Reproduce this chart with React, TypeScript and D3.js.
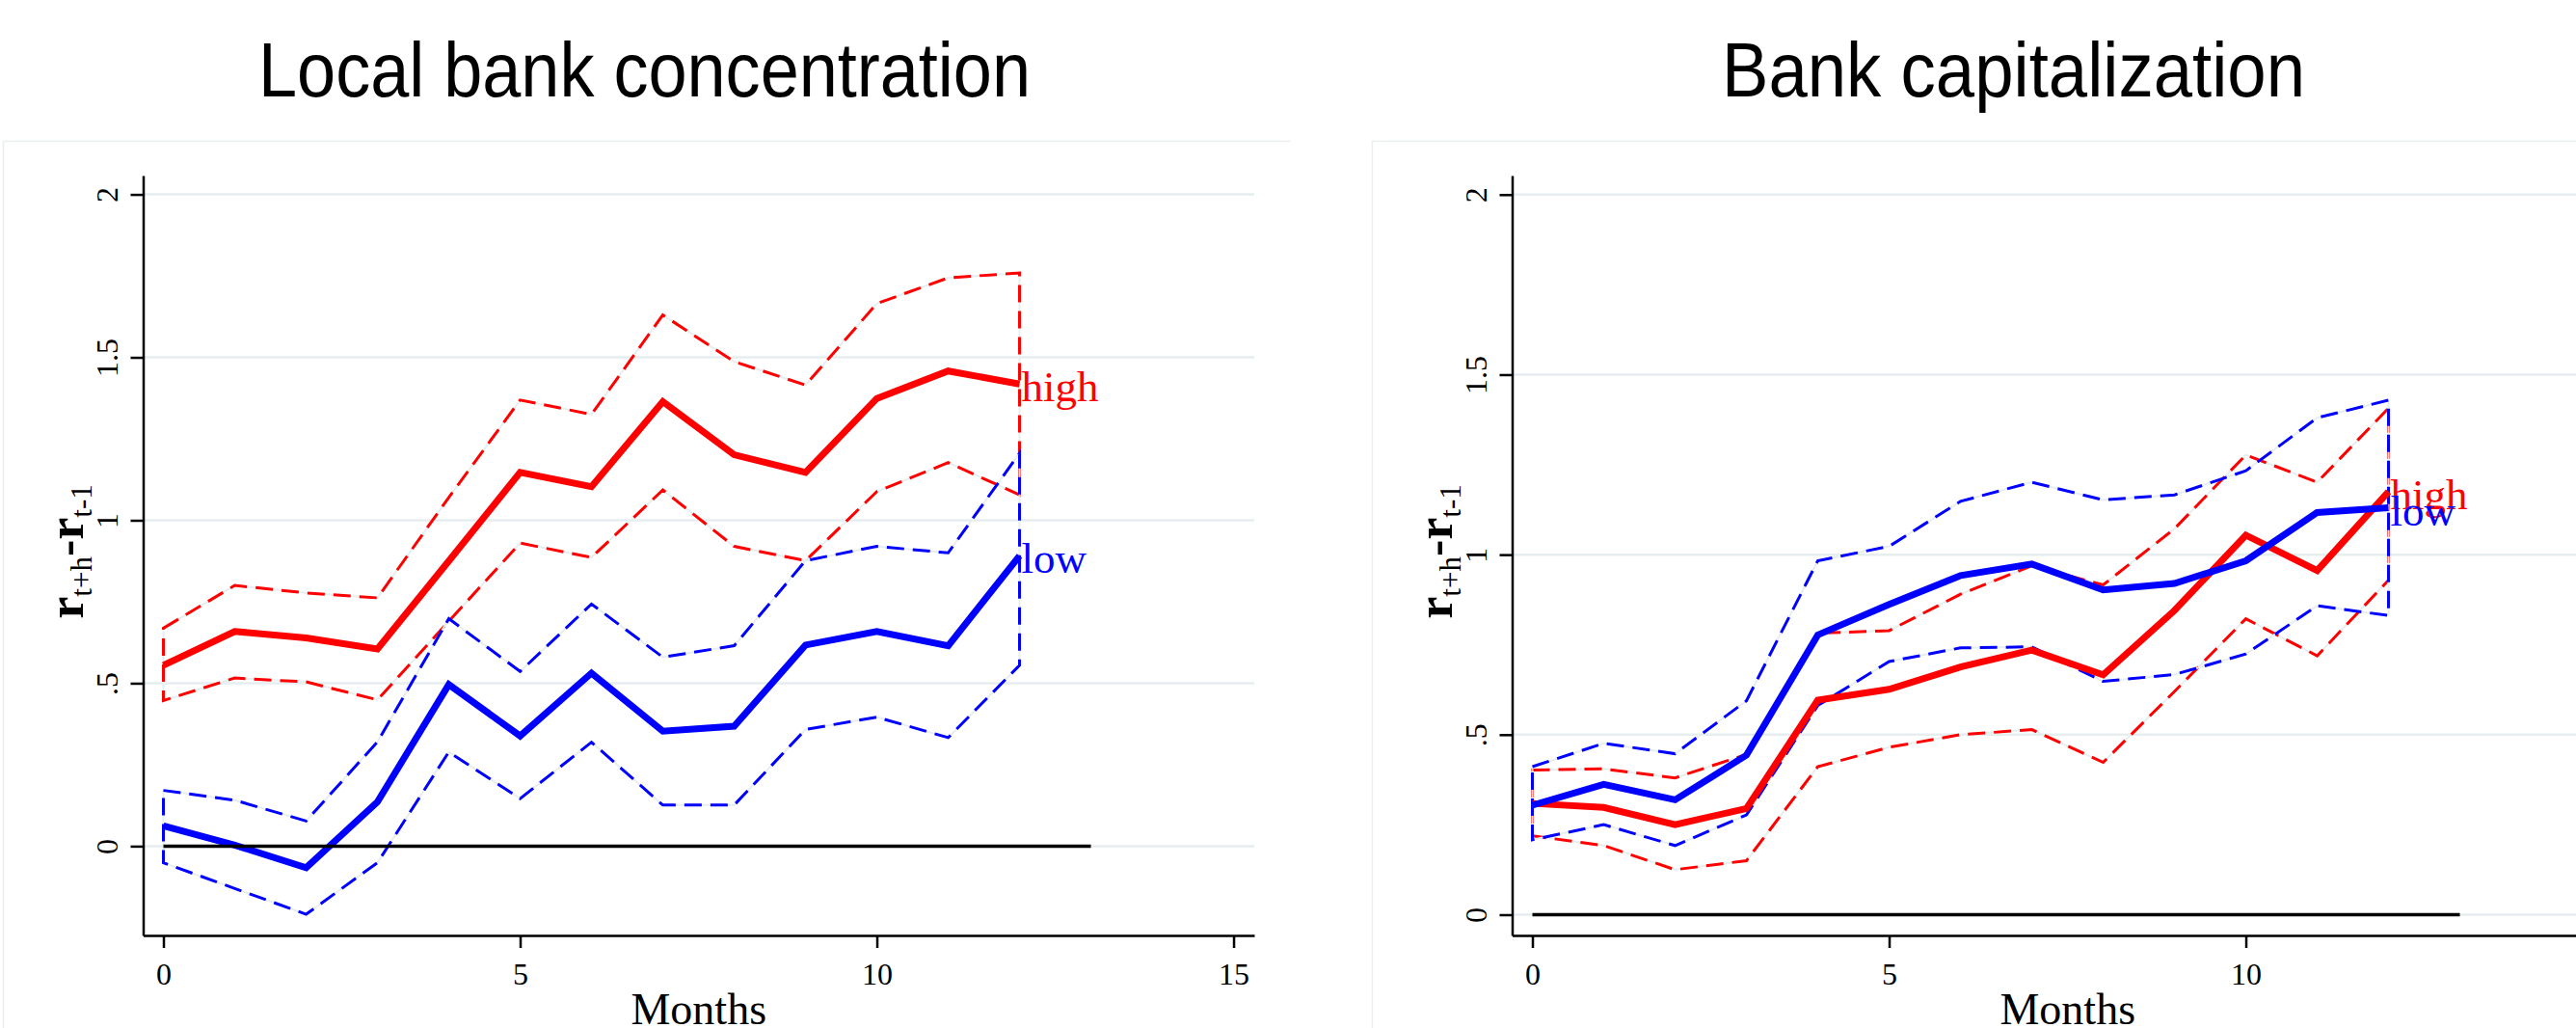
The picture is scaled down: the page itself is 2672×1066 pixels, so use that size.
import * as d3 from 'd3'
import { useRef, useEffect } from 'react'

const W = 2672
const H = 1066

const months = [0, 1, 2, 3, 4, 5, 6, 7, 8, 9, 10, 11, 12]
const zeroSpan = [0, 13]
const yTicks = [0, 0.5, 1, 1.5, 2]
const yTickLabels = ['0', '.5', '1', '1.5', '2']
const xTicks = [0, 5, 10, 15]

// Local bank concentration
const concHigh = [0.555, 0.659, 0.639, 0.605, 0.875, 1.147, 1.103, 1.364, 1.201, 1.147, 1.374, 1.458, 1.418]
const concHighUp = [0.669, 0.8, 0.777, 0.762, 1.07, 1.369, 1.325, 1.63, 1.487, 1.415, 1.665, 1.744, 1.759]
const concHighLo = [0.447, 0.516, 0.504, 0.449, 0.69, 0.93, 0.886, 1.093, 0.92, 0.876, 1.088, 1.177, 1.078]
const concLow = [0.062, 0.003, -0.066, 0.136, 0.496, 0.338, 0.531, 0.353, 0.368, 0.617, 0.659, 0.615, 0.891]
const concLowUp = [0.171, 0.141, 0.077, 0.32, 0.698, 0.536, 0.743, 0.58, 0.615, 0.876, 0.92, 0.9, 1.206]
const concLowLo = [-0.051, -0.13, -0.209, -0.051, 0.289, 0.146, 0.319, 0.126, 0.126, 0.358, 0.396, 0.333, 0.555]

// Bank capitalization
const capHigh = [0.309, 0.298, 0.25, 0.295, 0.596, 0.626, 0.688, 0.735, 0.666, 0.845, 1.054, 0.956, 1.175]
const capHighUp = [0.402, 0.405, 0.38, 0.445, 0.782, 0.789, 0.89, 0.969, 0.916, 1.072, 1.277, 1.201, 1.407]
const capHighLo = [0.219, 0.192, 0.125, 0.15, 0.411, 0.465, 0.5, 0.514, 0.423, 0.62, 0.822, 0.719, 0.929]
const capLow = [0.304, 0.362, 0.319, 0.443, 0.777, 0.862, 0.942, 0.974, 0.902, 0.92, 0.983, 1.117, 1.13]
const capLowUp = [0.411, 0.476, 0.447, 0.594, 0.983, 1.023, 1.148, 1.201, 1.152, 1.166, 1.233, 1.38, 1.429]
const capLowLo = [0.208, 0.25, 0.192, 0.277, 0.581, 0.703, 0.741, 0.744, 0.648, 0.667, 0.724, 0.858, 0.831]

const panels = [
  {
    title: 'Local bank concentration', titleLen: 801, dx: 0, borderEnd: 1335,
    yDomain: [-0.274, 2.058],
    high: concHigh, highUp: concHighUp, highLo: concHighLo,
    low: concLow, lowUp: concLowUp, lowLo: concLowLo,
  },
  {
    title: 'Bank capitalization', titleLen: 605, dx: 1420, borderEnd: 1260,
    yDomain: [-0.0576, 2.053],
    high: capHigh, highUp: capHighUp, highLo: capHighLo,
    low: capLow, lowUp: capLowUp, lowLo: capLowLo,
  },
]

const SERIF = '"Liberation Serif", "Times New Roman", serif'
const SANS = '"Liberation Sans", Arial, sans-serif'

function drawPanel(root, p) {
  const g = root.append('g').attr('transform', `translate(${p.dx},0)`)
  const x = d3.scaleLinear().domain([-0.284, 15.29]).range([148.5, 1301])
  const y = d3.scaleLinear().domain(p.yDomain).range([970, 182])

  // faint graph-region border
  g.append('path')
    .attr('d', `M3.5,${H + 10}V146.5H${3.5 + p.borderEnd}`)
    .attr('fill', 'none').attr('stroke', '#e9eff0').attr('stroke-width', 1.5)

  g.append('text')
    .attr('x', 668.5).attr('y', 100)
    .attr('text-anchor', 'middle')
    .attr('font-family', SANS).attr('font-size', 79)
    .attr('textLength', p.titleLen).attr('lengthAdjust', 'spacingAndGlyphs')
    .text(p.title)

  // gridlines
  g.append('g').selectAll('line').data(yTicks).join('line')
    .attr('x1', x.range()[0]).attr('x2', x.range()[1])
    .attr('y1', d => y(d)).attr('y2', d => y(d))
    .attr('stroke', '#e6eef0').attr('stroke-width', 2.5)

  // y axis
  const yAxis = g.append('g').attr('transform', `translate(${x.range()[0]},0)`)
    .call(d3.axisLeft(y).tickValues(yTicks).tickFormat((d, i) => yTickLabels[i]).tickSize(13).tickSizeOuter(0))
  yAxis.select('.domain').attr('stroke-width', 2.5)
  yAxis.selectAll('.tick line').attr('stroke-width', 2.5)
  yAxis.selectAll('.tick text')
    .attr('transform', 'rotate(-90)')
    .attr('x', 0).attr('y', -27).attr('dy', 0)
    .attr('text-anchor', 'middle')
    .attr('font-family', SERIF).attr('font-size', 32).attr('fill', '#000')

  // x axis (tick 15 of the right panel falls outside the picture, as in the source)
  const xAxis = g.append('g').attr('transform', `translate(0,970)`)
    .call(d3.axisBottom(x).tickValues(xTicks).tickFormat(d3.format('d')).tickSize(13).tickSizeOuter(0))
  xAxis.select('.domain').attr('stroke-width', 2.5)
  xAxis.selectAll('.tick line').attr('stroke-width', 2.5)
  xAxis.selectAll('.tick text')
    .attr('y', 28)
    .attr('font-family', SERIF).attr('font-size', 32).attr('fill', '#000')

  g.append('text')
    .attr('x', (x.range()[0] + x.range()[1]) / 2).attr('y', 1062)
    .attr('text-anchor', 'middle')
    .attr('font-family', SERIF).attr('font-size', 46)
    .text('Months')

  // y axis title r_{t+h}-r_{t-1}
  const yt = g.append('text')
    .attr('transform', `translate(86,572) rotate(-90)`)
    .attr('text-anchor', 'middle')
    .attr('font-family', SERIF)
  yt.append('tspan').attr('font-size', 52).attr('font-weight', 'bold').text('r')
  yt.append('tspan').attr('font-size', 31).attr('dy', 9).text('t+h')
  yt.append('tspan').attr('font-size', 52).attr('font-weight', 'bold').attr('dy', -9).text('-')
  yt.append('tspan').attr('font-size', 52).attr('font-weight', 'bold').text('r')
  yt.append('tspan').attr('font-size', 31).attr('dy', 9).text('t-1')

  const line = d3.line().x((d, i) => x(months[i])).y(d => y(d))
  const band = (up, lo) => {
    const pts = months.map((m, i) => [x(m), y(up[i])])
      .concat(months.map((m, i) => [x(m), y(lo[i])]).reverse())
    return d3.line()(pts) + 'Z'
  }

  const series = [
    { up: p.highUp, lo: p.highLo, color: '#ff0000' },
    { up: p.lowUp, lo: p.lowLo, color: '#0000ff' },
  ]
  series.forEach(s => {
    g.append('path').attr('d', band(s.up, s.lo))
      .attr('fill', 'none').attr('stroke', '#e8eef0').attr('stroke-width', 2)
    g.append('path').attr('d', band(s.up, s.lo))
      .attr('fill', 'none').attr('stroke', s.color).attr('stroke-width', 3)
      .attr('stroke-dasharray', '18 9')
  })

  g.append('path').attr('d', line(p.high))
    .attr('fill', 'none').attr('stroke', '#ff0000').attr('stroke-width', 7)
  g.append('path').attr('d', line(p.low))
    .attr('fill', 'none').attr('stroke', '#0000ff').attr('stroke-width', 7)

  // zero reference line
  g.append('path')
    .attr('d', d3.line().x(d => x(d)).y(() => y(0))(zeroSpan))
    .attr('stroke', '#000').attr('stroke-width', 3.5)

  const last = months.length - 1
  g.append('text')
    .attr('x', x(months[last]) + 2).attr('y', y(p.high[last]) + 18)
    .attr('font-family', SERIF).attr('font-size', 45).attr('fill', '#ff0000')
    .text('high')
  g.append('text')
    .attr('x', x(months[last]) + 2).attr('y', y(p.low[last]) + 18)
    .attr('font-family', SERIF).attr('font-size', 45).attr('fill', '#0000ff')
    .text('low')
}

export default function App() {
  const svgRef = useRef(null)
  useEffect(() => {
    const svg = d3.select(svgRef.current)
    svg.selectAll('*').remove()
    svg.attr('width', W).attr('height', H)
    svg.append('rect').attr('width', W).attr('height', H).attr('fill', '#fff')
    panels.forEach(p => drawPanel(svg, p))
  }, [])
  return (
    <svg ref={svgRef} style={{ position: 'absolute', left: 0, top: 0 }}></svg>
  )
}
